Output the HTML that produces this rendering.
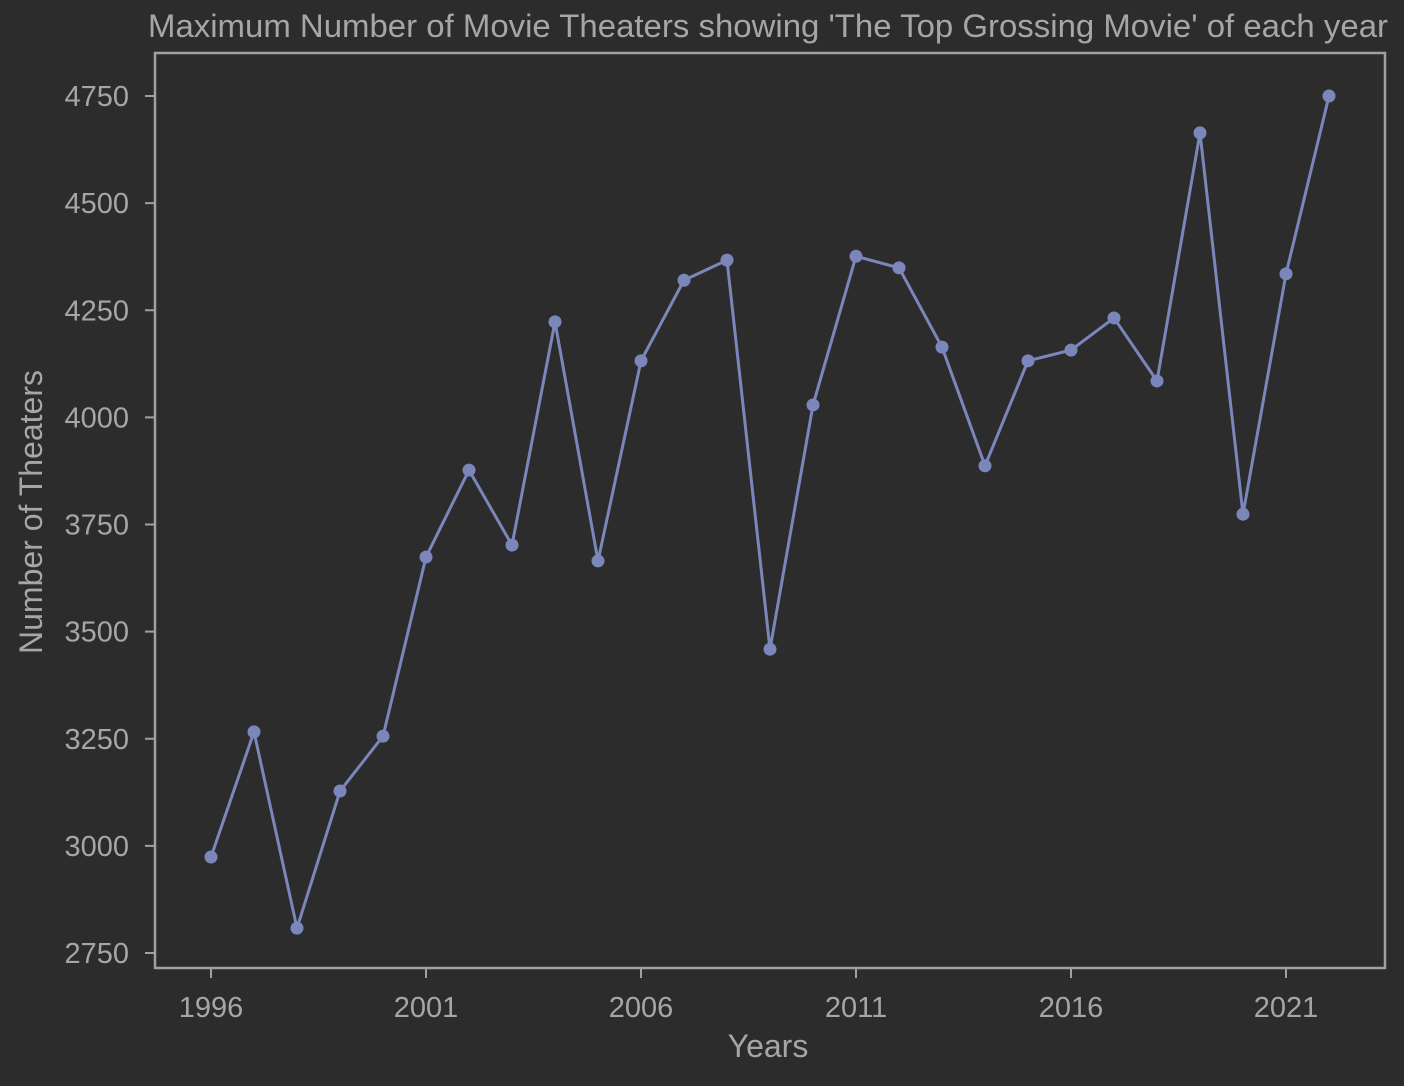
<!DOCTYPE html>
<html><head><meta charset="utf-8"><style>
html,body{margin:0;padding:0;background:#2c2c2c;}
svg{display:block;font-family:"Liberation Sans",sans-serif;}
</style></head><body>
<svg id="chart" width="1404" height="1086">
<rect x="0" y="0" width="1404" height="1086" fill="#2c2c2c"/>
<text x="148" y="37" fill="#a6a6a6" font-size="32" textLength="1240" lengthAdjust="spacingAndGlyphs">Maximum Number of Movie Theaters showing 'The Top Grossing Movie' of each year</text>
<rect x="155" y="53" width="1230" height="915" fill="none" stroke="#a0a0a0" stroke-width="2.5"/>
<g id="yt"></g><g id="xt"></g>
<text x="768" y="1057" fill="#a6a6a6" font-size="32" text-anchor="middle">Years</text>
<text transform="translate(42,512) rotate(-90)" fill="#a6a6a6" font-size="32" text-anchor="middle">Number of Theaters</text>
<g id="series"></g>
</svg>
<script>
const years=[1996,1997,1998,1999,2000,2001,2002,2003,2004,2005,2006,2007,2008,2009,2010,2011,2012,2013,2014,2015,2016,2017,2018,2019,2020,2021,2022];
const theaters=[2974,3266,2808,3128,3256,3674,3877,3702,4223,3665,4132,4320,4367,3459,4029,4376,4349,4164,3887,4132,4157,4232,4085,4664,3774,4335,4750];
const yTicks=[2750,3000,3250,3500,3750,4000,4250,4500,4750];
const xTicks=[1996,2001,2006,2011,2016,2021];
const NS="http://www.w3.org/2000/svg";
const xs=v=>211+(v-1996)*43;
const ys=v=>953-(v-2750)/2000*857;
function mk(t,a,p){const e=document.createElementNS(NS,t);for(const k in a)e.setAttribute(k,a[k]);p.appendChild(e);return e;}
const yt=document.getElementById('yt');
yTicks.forEach(v=>{
 const l=mk('line',{x1:145,x2:155,y1:ys(v),y2:ys(v),stroke:'#a0a0a0','stroke-width':2},yt);
 
 
 const t=mk('text',{x:129,y:ys(v)+10,fill:'#a6a6a6','font-size':29,'text-anchor':'end'},yt);
 t.textContent=v;
 
 
});
const xt=document.getElementById('xt');
xTicks.forEach(v=>{
 const l=mk('line',{x1:xs(v),x2:xs(v),y1:968,y2:978,stroke:'#a0a0a0','stroke-width':2},xt);
 
 
 const t=mk('text',{x:xs(v),y:1017,fill:'#a6a6a6','font-size':29,'text-anchor':'middle'},xt);
 t.textContent=v;
 
 
});
const s=document.getElementById('series');
const pl=mk('polyline',{points:years.map((y,i)=>xs(y)+','+ys(theaters[i])).join(' '),fill:'none',stroke:'#7b86bb','stroke-width':3},s);


years.forEach((y,i)=>{
 const c=mk('circle',{cx:xs(y),cy:ys(theaters[i]),r:6.5,fill:'#7b86bb'},s);
 
 
});
</script>
</body></html>
